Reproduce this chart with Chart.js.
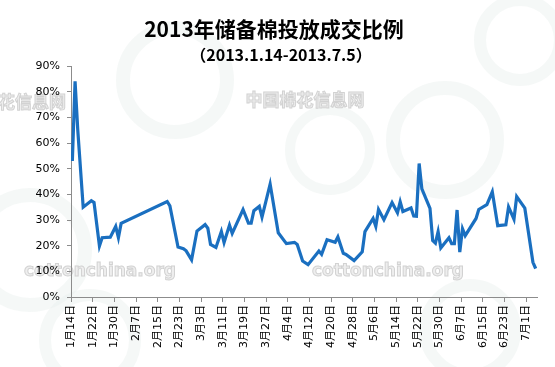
<!DOCTYPE html>
<html>
<head>
<meta charset="utf-8">
<script src="https://cdn.jsdelivr.net/npm/chart.js@4/dist/chart.umd.min.js"></script>
<style>
html,body{margin:0;padding:0;background:#fff;}
#wrap{width:555px;height:367px;position:relative;}
</style>
</head>
<body>
<div id="wrap"><canvas id="c" width="555" height="367"></canvas></div>
<script>
// Days counted from 2013-01-14 (day 0)
const days = [0,1,2,4,7,8,10,11,14,16,17,18,35,36,39,41,42,44,46,49,50,51,53,55,56,58,59,63,65,66,67,69,70,73,76,79,82,83,85,87,91,92,94,97,98,100,101,104,107,108,111,112,113,115,118,120,121,122,125,126,127,128,129,132,133,134,135,136,139,140,141,142,143,144,145,149,150,153,155,157,160,161,163,164,167,170,171];
const ratios = [53,84,65,35,37.5,36.8,19.9,23.1,23.3,27.5,23.1,28.7,37.2,35.5,19.5,18.8,18,14.5,25.7,28.2,26.8,20.5,19.3,25.5,21.2,28,24.8,34.1,28.8,28.8,33.6,35.3,31.1,44,25,20.8,21.3,20.5,14,12.6,17.9,16.6,22.3,21.3,23.4,17,16.6,14.2,17.6,25.5,30.6,27.5,34.1,30.1,36.8,32.8,37.1,33.3,34.7,31.6,31.5,52,42.1,34.5,22,21,25.5,19.1,23.1,20.8,20.8,33.9,17.5,26.6,23.9,30.6,34.1,36,41,27.8,28.1,35.1,30.3,39.1,34.6,13.5,11.1];
const tickLabels = ["1月14日","1月22日","1月30日","2月7日","2月15日","2月23日","3月3日","3月11日","3月19日","3月27日","4月4日","4月12日","4月20日","4月28日","5月6日","5月14日","5月22日","5月30日","6月7日","6月15日","6月23日","7月1日"];
const yTicks = [0,10,20,30,40,50,60,70,80,90];
const titleText = "2013年储备棉投放成交比例";
const subtitleText = "（2013.1.14-2013.7.5）";

const points = days.map((d,i)=>({x:d+0.5,y:ratios[i]}));
const fontFam = 'Verdana, "DejaVu Sans", "Noto Sans CJK SC", sans-serif';

const bgPlugin = {
  id:'bg',
  beforeDraw(chart){
    const ctx = chart.ctx;
    ctx.save();
    ctx.fillStyle='#fff';
    ctx.fillRect(0,0,chart.width,chart.height);
    // faint decorative rings
    ctx.strokeStyle='rgba(232,240,238,0.45)';
    const rings=[[175,80,52,14],[445,140,52,14],[30,250,55,14],[520,40,40,12],[330,150,40,10],[470,330,45,12],[90,340,45,12]];
    rings.forEach(r=>{ctx.lineWidth=r[3];ctx.beginPath();ctx.arc(r[0],r[1],r[2],0,Math.PI*2);ctx.stroke();});
    // watermark texts
    ctx.textBaseline='middle';
    ctx.lineWidth=1;
    ctx.font='bold 17px "Noto Sans CJK SC", sans-serif';
    ctx.fillStyle='#eeeeee'; ctx.strokeStyle='#d2d2d2';
    ctx.textAlign='center';
    ctx.fillText('中国棉花信息网',305,100); ctx.strokeText('中国棉花信息网',305,100);
    ctx.textAlign='right';
    ctx.fillText('棉花信息网',66,102); ctx.strokeText('棉花信息网',66,102);
    ctx.textAlign='center';
    ctx.font='bold 17px "DejaVu Sans", sans-serif';
    ctx.fillText('cottonchina.org',100,272); ctx.strokeText('cottonchina.org',100,272);
    ctx.fillText('cottonchina.org',388,272); ctx.strokeText('cottonchina.org',388,272);
    // titles
    ctx.fillStyle='#000';
    ctx.textAlign='center';
    ctx.font='bold 21px "Noto Sans CJK SC", sans-serif';
    ctx.fillText(titleText,274,29);
    ctx.font='bold 16px "Noto Sans CJK SC", sans-serif';
    ctx.fillText(subtitleText,281,55);
    ctx.restore();
  }
};

new Chart(document.getElementById('c'),{
  type:'line',
  data:{datasets:[{data:points,borderColor:'#1a6fc0',borderWidth:3.2,pointRadius:0,tension:0,fill:false}]},
  options:{
    responsive:false,animation:false,
    layout:{padding:{top:66,right:18,left:0,bottom:0}},
    plugins:{legend:{display:false},tooltip:{enabled:false}},
    scales:{
      x:{type:'linear',min:0,max:172,
        afterBuildTicks(s){s.ticks=tickLabels.map((l,i)=>({value:i*8}));},
        afterFit(s){s.height=70;},
        grid:{drawOnChartArea:false,drawTicks:true,tickLength:5,color:'#8c8c8c'},
        border:{color:'#8c8c8c',width:1},
        ticks:{autoSkip:false,maxRotation:90,minRotation:90,padding:3,color:'#000',
          font:{family:fontFam,size:11},
          callback(v){const i=Math.round(v/8);return tickLabels[i]||'';}}
      },
      y:{min:0,max:90,
        afterBuildTicks(s){s.ticks=yTicks.map(v=>({value:v}));},
        afterFit(s){s.width=71;},
        grid:{drawOnChartArea:false,drawTicks:true,tickLength:4,color:'#8c8c8c'},
        border:{color:'#8c8c8c',width:1},
        ticks:{padding:7,color:'#000',font:{family:fontFam,size:11},callback(v){return v+'%';}}
      }
    }
  },
  plugins:[bgPlugin]
});
</script>
</body>
</html>
